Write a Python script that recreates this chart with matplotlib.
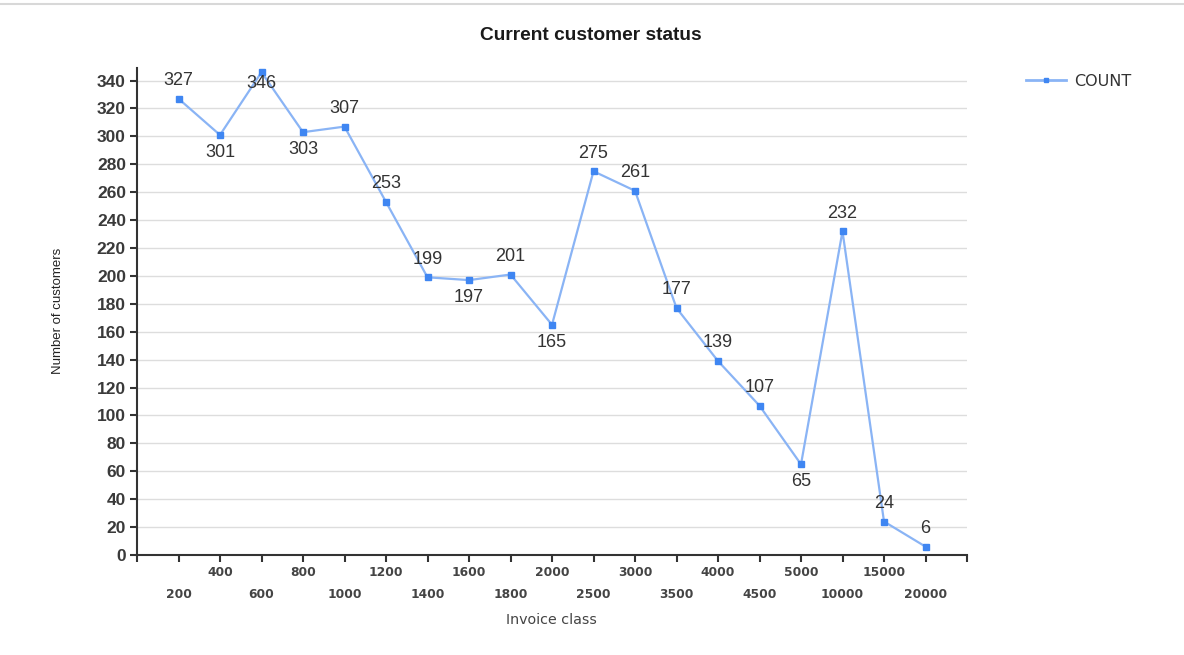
import matplotlib
matplotlib.use("Agg")
import matplotlib.pyplot as plt
from matplotlib.lines import Line2D

# Invoice classes and customer counts
invoice_classes = ["200", "400", "600", "800", "1000", "1200", "1400", "1600", "1800",
                   "2000", "2500", "3000", "3500", "4000", "4500", "5000", "10000",
                   "15000", "20000"]
customer_counts = [327, 301, 346, 303, 307, 253, 199, 197, 201, 165, 275, 261, 177,
                   139, 107, 65, 232, 24, 6]
y_ticks = list(range(0, 341, 20))

# where each value label sits relative to its point
label_side = ["above", "below", "below", "below", "above", "above", "above", "below",
              "above", "below", "above", "above", "above", "above", "above", "below",
              "above", "above", "above"]

plt.rcParams["font.family"] = ["Liberation Sans", "DejaVu Sans"]
WIDE = ["DejaVu Sans"]

fig = plt.figure(figsize=(11.84, 6.55), dpi=100)
ax = fig.add_axes([137 / 1184, 1 - 555 / 655, (967 - 137) / 1184, (555 - 68) / 655])

xs = list(range(1, len(invoice_classes) + 1))
line_color = "#8ab4f5"
marker_color = "#3f86f2"
ax.plot(xs, customer_counts, color=line_color, lw=1.6, zorder=3)
ax.plot(xs, customer_counts, ls="none", marker="s", ms=5, color=marker_color, zorder=4)

for x, v, side in zip(xs, customer_counts, label_side):
    if side == "above":
        off = 13
    else:
        off = -12.5 if v != 346 else -8
    ax.annotate(str(v), (x, v), xytext=(0, off), textcoords="offset points",
                ha="center", va="center", fontsize=13, color="#333333", zorder=5)

ax.set_xlim(0, len(invoice_classes) + 1)
ax.set_ylim(0, 349)
ax.set_yticks(y_ticks)
ax.set_yticklabels([str(t) for t in y_ticks], fontsize=12.5, fontweight="bold", color="#3a3a3a")
ax.grid(axis="y", color="#dddddd", lw=1)
ax.set_axisbelow(True)

ax.set_xticks(range(0, len(invoice_classes) + 2))
ax.set_xticklabels([])
for x, lab in zip(xs, invoice_classes):
    dy = -17 if x % 2 == 0 else -38
    ax.annotate(lab, (x, 0), xytext=(0, dy * 0.75), textcoords="offset points",
                ha="center", va="center", fontsize=8.8, fontweight="bold",
                family=WIDE, color="#444444", annotation_clip=False)

ax.tick_params(axis="x", length=5, width=1.5, color="#333333", direction="out")
ax.tick_params(axis="y", length=5, width=1.5, color="#333333", direction="out", pad=3)
for s in ["top", "right"]:
    ax.spines[s].set_visible(False)
for s in ["left", "bottom"]:
    ax.spines[s].set_color("#333333")
    ax.spines[s].set_linewidth(1.5)

fig.text(551 / 1184, 1 - 620 / 655, "Invoice class", ha="center", va="center",
         fontsize=10.3, family=WIDE, color="#444444")
fig.text(58 / 1184, 1 - 311 / 655, "Number of customers", ha="center", va="center",
         rotation=90, fontsize=9.5, color="#222222",
         family=["Liberation Sans Narrow", "Liberation Sans", "DejaVu Sans"])
fig.text(591 / 1184, 1 - 36 / 655, "Current customer status", ha="center", va="center",
         fontsize=13.8, fontweight="bold", color="#1a1a1a")

# legend
leg_handle = Line2D([], [], color=line_color, lw=2, marker="s", ms=3.5,
                    markerfacecolor=marker_color, markeredgecolor=marker_color)
fig.legend([leg_handle], ["COUNT"], loc="center left",
           bbox_to_anchor=(1012 / 1184, 1 - 81 / 655), frameon=False,
           prop={"family": WIDE, "size": 11.5}, handlelength=2.5, handletextpad=0.5,
           labelcolor="#333333")

# thin rule along the top
fig.add_artist(Line2D([0, 1], [1 - 4 / 655, 1 - 4 / 655], transform=fig.transFigure,
                      color="#d8d8d8", lw=1.5))

fig.savefig("out.png", dpi=100, facecolor="white")
